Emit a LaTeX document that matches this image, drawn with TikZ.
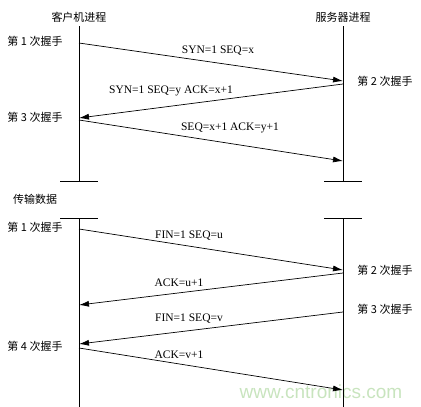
\documentclass[tikz,border=0pt]{standalone}
\usepackage{fontspec}
\setmainfont{Liberation Serif}
\newfontfamily\cjk{Noto Sans CJK SC}
\newfontfamily\wmfont{Liberation Sans}
\usetikzlibrary{arrows.meta}
\definecolor{wmgreen}{RGB}{200,228,190}
\begin{document}
\begin{tikzpicture}[x=1pt,y=-1pt,
  life/.style={line width=0.9pt},
  msg/.style={line width=0.7pt,-{Latex[length=10pt,width=6pt]}},
  lbl/.style={font=\fontsize{11.5}{13}\selectfont,inner sep=0pt},
  zh/.style={font=\cjk\fontsize{11}{13}\selectfont,inner sep=0pt},
  tick/.style={line width=0.9pt}]
\useasboundingbox (0,0) rectangle (421,407);
% watermark
\node[font=\wmfont\fontsize{19}{20}\selectfont,text=wmgreen,inner sep=0pt] (wm) at (321,392) {www.cntronics.com};
% titles
\node[zh] (ct) at (79,17) {客户机进程};
\node[zh] (st) at (343,17) {服务器进程};
% lifeline coordinates
\coordinate (ctop) at (79,26);
\coordinate (cb1) at (79,181);
\coordinate (ct2) at (79,218);
\coordinate (cbot) at (79,407);
\coordinate (stop) at (343,26);
\coordinate (sb1) at (343,181);
\coordinate (st2) at (343,218);
\coordinate (sbot) at (343,407);
\draw[life] (ctop) -- (cb1);
\draw[life] (ct2) -- (cbot);
\draw[life] (stop) -- (sb1);
\draw[life] (st2) -- (sbot);
% ticks
\coordinate (tl1a) at (60,181); \coordinate (tl1b) at (98,181);
\coordinate (tl2a) at (60,218); \coordinate (tl2b) at (98,218);
\coordinate (tr1a) at (324,181); \coordinate (tr1b) at (362,181);
\coordinate (tr2a) at (324,218); \coordinate (tr2b) at (362,218);
\draw[tick] (tl1a) -- (tl1b);
\draw[tick] (tl2a) -- (tl2b);
\draw[tick] (tr1a) -- (tr1b);
\draw[tick] (tr2a) -- (tr2b);
% message endpoints
\coordinate (a1) at (79,43);  \coordinate (b1) at (343,81);
\coordinate (b2) at (343,84); \coordinate (a2) at (79,118);
\coordinate (a3) at (79,120); \coordinate (b3) at (343,161);
\coordinate (a4) at (79,229); \coordinate (b4) at (343,270);
\coordinate (b5) at (343,273); \coordinate (a5) at (79,305);
\coordinate (b6) at (343,312); \coordinate (a6) at (79,344);
\coordinate (a7) at (79,348); \coordinate (b7) at (343,390);
\draw[msg] (a1) -- (b1);
\draw[msg] (b2) -- (a2);
\draw[msg] (a3) -- (b3);
\draw[msg] (a4) -- (b4);
\draw[msg] (b5) -- (a5);
\draw[msg] (b6) -- (a6);
\draw[msg] (a7) -- (b7);
% message labels
\node[lbl] (m1) at (218,51) {SYN=1 SEQ=x};
\node[lbl] (m2) at (171,91) {SYN=1 SEQ=y ACK=x+1};
\node[lbl] (m3) at (230,128) {SEQ=x+1 ACK=y+1};
\node[lbl] (m4) at (189,236) {FIN=1 SEQ=u};
\node[lbl] (m5) at (179,283) {ACK=u+1};
\node[lbl] (m6) at (189,319) {FIN=1 SEQ=v};
\node[lbl] (m7) at (179,355) {ACK=v+1};
% step labels
\node[zh] (h1) at (35,41) {第 1 次握手};
\node[zh] (h2) at (385,81) {第 2 次握手};
\node[zh] (h3) at (35,117) {第 3 次握手};
\node[zh] (td) at (35,199) {传输数据};
\node[zh] (f1) at (35,227) {第 1 次握手};
\node[zh] (f2) at (385,270) {第 2 次握手};
\node[zh] (f3) at (385,309) {第 3 次握手};
\node[zh] (f4) at (35,346) {第 4 次握手};
\end{tikzpicture}
\end{document}
